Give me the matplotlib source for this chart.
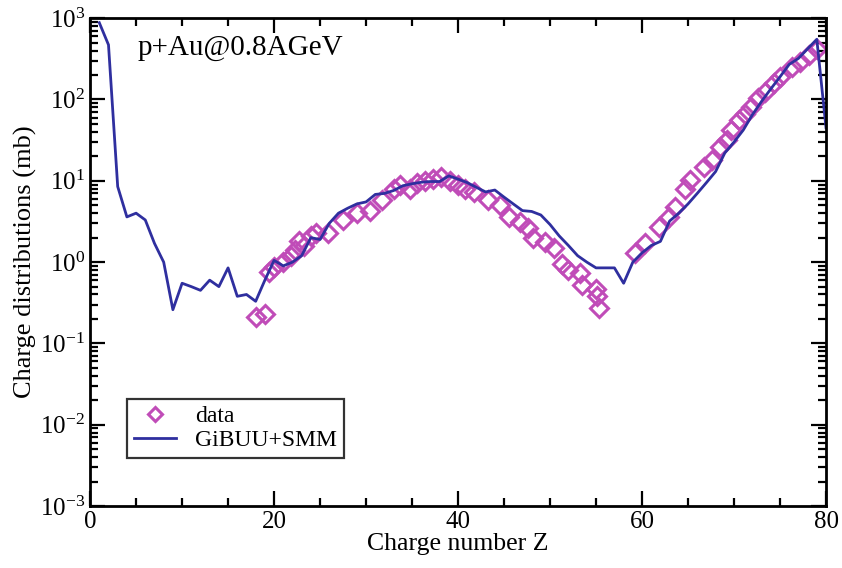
#!/usr/bin/env python
"""Charge distribution for p+Au at 0.8 AGeV: data vs GiBUU+SMM."""
import matplotlib
matplotlib.use("Agg")
import matplotlib.pyplot as plt
from matplotlib.ticker import MultipleLocator, LogLocator, NullFormatter

plt.rcParams["font.family"] = ["Liberation Serif", "DejaVu Serif"]
plt.rcParams["mathtext.fontset"] = "stix"

# GiBUU+SMM model curve (Z, mb)
model_z = list(range(1, 81))
model_mb = [880, 470, 8.5, 3.6, 4.0, 3.3, 1.7, 1.0, 0.26, 0.55,
            0.5, 0.45, 0.6, 0.5, 0.85, 0.38, 0.4, 0.33, 0.6, 1.05,
            0.9, 1.0, 1.2, 2.0, 1.9, 3.0, 4.0, 4.6, 5.2, 5.5,
            6.8, 7.0, 7.6, 8.7, 9.2, 9.6, 9.8, 9.8, 11.5, 10.5,
            9.5, 8.3, 7.3, 7.7, 6.3, 5.2, 4.3, 4.2, 3.8, 2.9,
            2.1, 1.6, 1.2, 1.0, 0.85, 0.85, 0.85, 0.55, 1.0, 1.3,
            1.6, 1.8, 3.2, 4.0, 5.2, 7.0, 9.5, 13, 22, 30,
            42, 65, 95, 135, 190, 270, 320, 420, 550, 45]

# measured data (Z, mb)
data_z = [18.0, 19.0, 19.5, 20.0, 21.0, 21.8, 22.3, 22.7, 23.3, 24.0,
          24.6, 25.9, 27.5, 29.0, 30.4, 31.7, 33.0, 33.7, 34.8, 35.5,
          36.4, 37.3, 38.2, 39.1, 40.0, 40.8, 41.7, 43.3, 44.6, 45.5,
          46.7, 47.6, 48.2, 49.5, 50.4, 51.3, 52.0, 53.3, 53.5, 55.0,
          55.1, 55.3,
          59.2, 60.3, 61.8, 62.9, 63.6, 64.7, 65.2, 66.7, 67.6, 68.5,
          69.2, 69.7, 70.5, 71.2, 71.9, 72.6, 73.4, 74.3, 75.0, 76.3,
          77.2, 78.1, 79.0]
data_mb = [0.21, 0.23, 0.76, 0.87, 1.0, 1.2, 1.4, 1.8, 1.6, 2.1,
           2.3, 2.3, 3.3, 4.0, 4.3, 5.8, 8.0, 9.0, 8.0, 9.3,
           10.0, 10.5, 11.0, 10.0, 8.9, 8.0, 7.3, 5.8, 5.0, 3.6,
           3.1, 2.6, 2.0, 1.76, 1.48, 0.95, 0.8, 0.73, 0.53, 0.47,
           0.38, 0.27,
           1.28, 1.7, 2.7, 3.6, 4.8, 8.0, 10.2, 14.8, 17.8, 26,
           32, 42, 56, 67, 81, 103, 125, 158, 190, 250,
           290, 350, 420]

fig = plt.figure(figsize=(8.42, 5.68), dpi=100)
ax = fig.add_axes([0.107, 0.109, 0.874, 0.859])

ax.plot(data_z, data_mb, linestyle="none", marker="D", markersize=9.5,
        markerfacecolor="none", markeredgecolor="#c04cb8", markeredgewidth=2.2,
        label="data")
ax.plot(model_z, model_mb, color="#2f2f9f", linewidth=2, label="GiBUU+SMM")

ax.set_yscale("log")
ax.set_xlim(0, 80)
ax.set_ylim(1e-3, 1e3)

ax.xaxis.set_major_locator(MultipleLocator(20))
ax.xaxis.set_minor_locator(MultipleLocator(5))
ax.yaxis.set_major_locator(LogLocator(base=10, numticks=10))
ax.yaxis.set_minor_locator(LogLocator(base=10, subs=range(2, 10), numticks=20))
ax.yaxis.set_minor_formatter(NullFormatter())

ax.tick_params(which="both", direction="in", top=True, right=True, width=1.6,
               labelsize=18)
ax.tick_params(which="major", length=11)
ax.tick_params(which="minor", length=6)
for s in ax.spines.values():
    s.set_linewidth(2)

ax.set_xlabel("Charge number Z", fontsize=18.5, labelpad=0)
ax.set_ylabel("Charge distributions (mb)", fontsize=19, labelpad=2)

ax.text(0.065, 0.965, "p+Au@0.8AGeV", transform=ax.transAxes, fontsize=21,
        va="top", ha="left")

leg = ax.legend(loc="lower left", bbox_to_anchor=(0.05, 0.098), fontsize=17,
                frameon=True, fancybox=False, borderpad=0.3, handlelength=1.8,
                labelspacing=0.1, borderaxespad=0, markerscale=0.75)
leg.get_frame().set_edgecolor("black")
leg.get_frame().set_linewidth(1.6)

fig.savefig("out.png", dpi=100)
